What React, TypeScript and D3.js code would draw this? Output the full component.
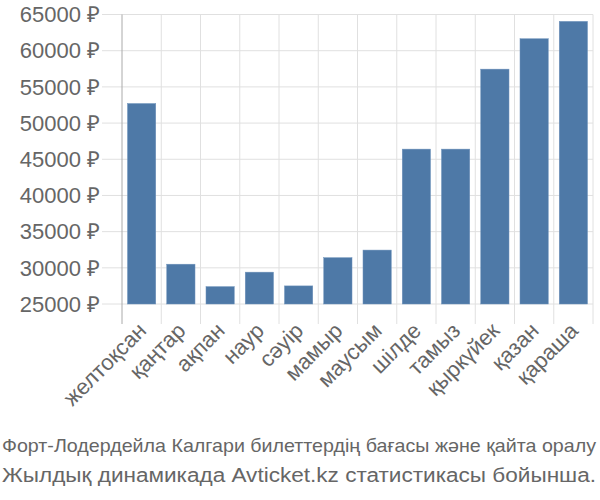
import React from "react";
import * as d3 from "d3";

const months = ["желтоқсан", "қаңтар", "ақпан", "наур", "сәуір", "мамыр", "маусым", "шілде", "тамыз", "қыркүйек", "қазан", "қараша"];
const prices = [52700, 30500, 27400, 29400, 27500, 31400, 32450, 46400, 46400, 57450, 61650, 64050];
const yTicks = [25000, 30000, 35000, 40000, 45000, 50000, 55000, 60000, 65000];
const caption1 = "Форт-Лодердейла Калгари билеттердің бағасы және қайта оралу";
const caption2 = "Жылдық динамикада Avticket.kz статистикасы бойынша.";

const W = 600, H = 500;
const left = 122, right = 593, top = 14.5, bottom = 304;

export default function App() {
  const x = d3.scaleBand<string>().domain(months).range([left, right]).paddingInner(0.28).paddingOuter(0.14);
  const y = d3.scaleLinear().domain([25000, 65000]).range([bottom, top]);
  const step = x.step();
  const font = "'Liberation Sans', Arial, sans-serif";
  return (
    <svg width={W} height={H} style={{ position: "absolute", left: 0, top: 0 }} fontFamily={font}>
      {yTicks.map((t) => (
        <g key={t}>
          <line x1={102} x2={right} y1={y(t)} y2={y(t)} stroke="#e0e0e0" strokeWidth={1} />
          <text x={100} y={y(t)} dy="0.35em" textAnchor="end" fontSize={22} fill="#666">{`${t} ₽`}</text>
        </g>
      ))}
      {months.map((m, i) => {
        const gx = left + step * (i + 1);
        return <line key={m} x1={gx} x2={gx} y1={top} y2={324} stroke="#e0e0e0" strokeWidth={1} />;
      })}
      <line x1={left} x2={left} y1={top} y2={324} stroke="#aaa" strokeWidth={1} />
      {months.map((m, i) => (
        <rect key={m} x={x(m)} y={y(prices[i])} width={x.bandwidth()} height={bottom - y(prices[i])} fill="#4e79a7" stroke="#6f93bb" strokeWidth={0.5} />
      ))}
      {months.map((m) => {
        const cx = (x(m) as number) + x.bandwidth() / 2 + 6;
        const cy = 332;
        return (
          <text key={m} x={cx} y={cy} textAnchor="end" fontSize={22} fill="#666" transform={`rotate(-45 ${cx} ${cy})`}>{m}</text>
        );
      })}
      <text x={2} y={452} fontSize={19} fill="#666" textLength={594} lengthAdjust="spacingAndGlyphs">{caption1}</text>
      <text x={2} y={482} fontSize={19.5} fill="#666" textLength={594} lengthAdjust="spacingAndGlyphs">{caption2}</text>
    </svg>
  );
}
